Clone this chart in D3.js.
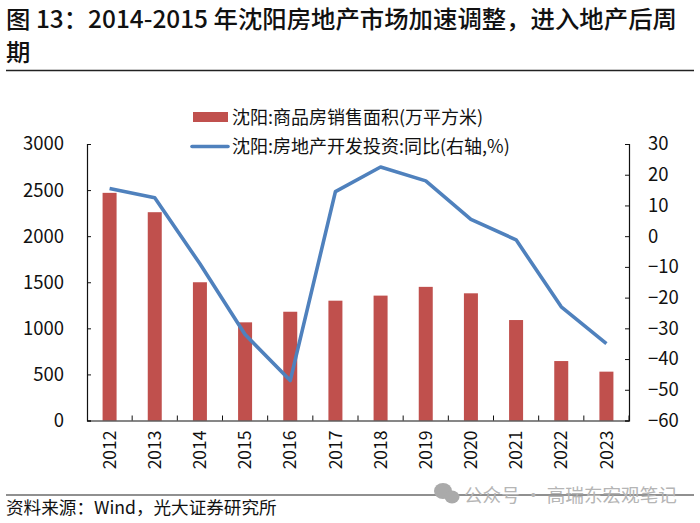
<!DOCTYPE html>
<html>
<head>
<meta charset="utf-8">
<script src="https://cdn.jsdelivr.net/npm/d3@7"></script>
<style>
  html, body { margin: 0; padding: 0; background: #fff; }
  text { font-family: "Noto Sans CJK SC", "Noto Sans", sans-serif; fill: #111; }
</style>
</head>
<body>
<svg width="700" height="523" style="display:block"></svg>
<script>
// 数据
const years = ['2012', '2013', '2014', '2015', '2016', '2017', '2018', '2019', '2020', '2021', '2022', '2023']
const salesArea = [2470, 2260, 1500, 1065, 1180, 1300, 1355, 1450, 1380, 1090, 645, 530]
const investYoy = [15.5, 12.5, -9, -32, -47, 14.5, 22.5, 18, 5.5, -1.2, -23, -35]
const leftTicks = [0, 500, 1000, 1500, 2000, 2500, 3000]
const rightTicks = [-60, -50, -40, -30, -20, -10, 0, 10, 20, 30]

const svg = d3.select('svg')
const plotLeft = 87, plotRight = 629, plotTop = 144, plotBottom = 420.5

const x = d3.scaleBand().domain(years).range([plotLeft, plotRight])
const yL = d3.scaleLinear().domain([0, 3000]).range([plotBottom, plotTop])
const yR = d3.scaleLinear().domain([-60, 30]).range([plotBottom, plotTop])

// 标题
svg.append('text').attr('x', 6).attr('y', 28).attr('font-size', 24.4).attr('font-weight', 500)
  .text('图 13：2014-2015 年沈阳房地产市场加速调整，进入地产后周')
svg.append('text').attr('x', 6).attr('y', 61).attr('font-size', 24.4).attr('font-weight', 500).text('期')
svg.append('line').attr('x1', 6).attr('x2', 694).attr('y1', 70.5).attr('y2', 70.5)
  .attr('stroke', '#222').attr('stroke-width', 1.5)

// 柱子
svg.append('g').selectAll('rect').data(years).enter().append('rect')
  .attr('x', d => x(d) + x.bandwidth() / 2 - 7)
  .attr('width', 14)
  .attr('y', (d, i) => yL(salesArea[i]))
  .attr('height', (d, i) => plotBottom - yL(salesArea[i]))
  .attr('fill', '#c0504d')

// 折线
let line = d3.line().x((d, i) => x(years[i]) + x.bandwidth() / 2).y(d => yR(d))
svg.append('path').datum(investYoy).attr('d', line)
  .attr('fill', 'none').attr('stroke', '#4f81bd').attr('stroke-width', 3.6)
  .attr('stroke-linejoin', 'round')

// 坐标轴
let axisL = svg.append('g').attr('transform', `translate(${plotLeft},0)`)
  .call(d3.axisLeft(yL).tickValues(leftTicks).tickFormat(d3.format('d')).tickSize(-4).tickPadding(23))
let axisR = svg.append('g').attr('transform', `translate(${plotRight},0)`)
  .call(d3.axisRight(yR).tickValues(rightTicks).tickSize(-4).tickPadding(19))
let axisB = svg.append('g').attr('transform', `translate(0,${plotBottom})`)
  .call(d3.axisBottom(x).tickSize(0).tickPadding(0))
axisB.selectAll('.tick line').remove()
axisB.selectAll('.tick text')
  .attr('transform', 'rotate(-90)')
  .attr('x', -10).attr('y', 0).attr('dy', '0.35em')
  .attr('text-anchor', 'end')
  .attr('font-size', 17.5)
// 类目分隔刻度
axisB.selectAll('line.sep').data(years).enter().append('line').attr('class', 'sep')
  .attr('x1', d => x(d) + x.bandwidth()).attr('x2', d => x(d) + x.bandwidth())
  .attr('y1', 0).attr('y2', -5).attr('stroke', '#111').attr('stroke-width', 1)
for (let a of [axisL, axisR, axisB]) {
  a.select('.domain').attr('stroke', '#111').attr('stroke-width', 1.2)
  a.selectAll('text').attr('font-family', '"Noto Sans CJK SC", sans-serif').style('fill', '#111')
}
axisL.selectAll('.tick text').attr('font-size', 18.5)
axisR.selectAll('.tick text').attr('font-size', 18.5)
axisL.selectAll('.tick line').attr('stroke', '#111')
axisR.selectAll('.tick line').attr('stroke', '#111')

// 图例
svg.append('rect').attr('x', 193).attr('y', 112).attr('width', 35).attr('height', 10).attr('fill', '#c0504d')
svg.append('text').attr('x', 232).attr('y', 123.5).attr('font-size', 18).text('沈阳:商品房销售面积(万平方米)')
svg.append('line').attr('x1', 192).attr('x2', 228).attr('y1', 146.5).attr('y2', 146.5)
  .attr('stroke', '#4f81bd').attr('stroke-width', 3.6).attr('stroke-linecap', 'round')
svg.append('text').attr('x', 232).attr('y', 153).attr('font-size', 18).text('沈阳:房地产开发投资:同比(右轴,%)')

// 页脚
svg.append('line').attr('x1', 6).attr('x2', 694).attr('y1', 495).attr('y2', 495)
  .attr('stroke', '#222').attr('stroke-width', 1.2)
svg.append('text').attr('x', 6).attr('y', 514).attr('font-size', 17.6).text('资料来源：Wind，光大证券研究所')

// 水印
svg.append('text').attr('x', 464).attr('y', 502).attr('font-size', 18.6).style('fill', '#b5b5b5')
  .text('公众号 · 高瑞东宏观笔记')
let wm = svg.append('g').attr('fill', '#aaa')
wm.append('ellipse').attr('cx', 443).attr('cy', 491).attr('rx', 9).attr('ry', 8)
wm.append('ellipse').attr('cx', 452).attr('cy', 497).attr('rx', 7.5).attr('ry', 6.5)
</script>
</body>
</html>
